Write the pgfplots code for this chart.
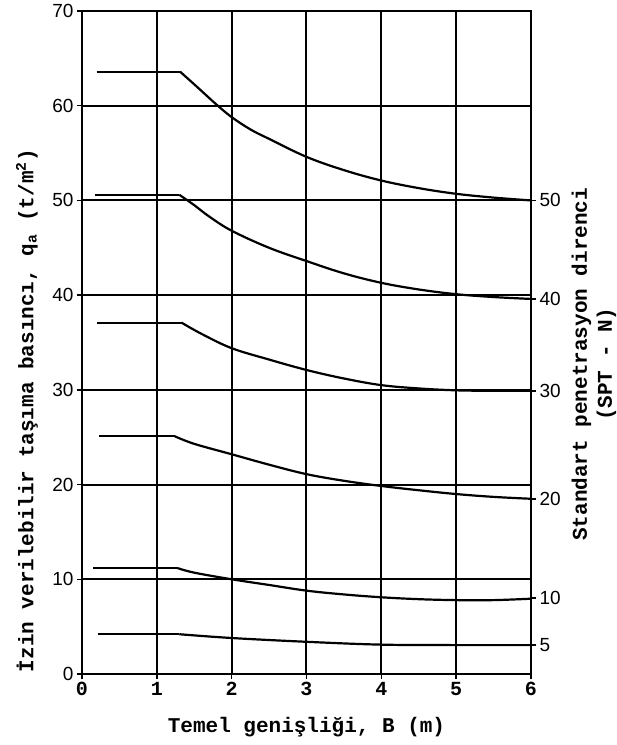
\documentclass[border=0pt]{standalone}
\usepackage{fontspec}
\setmainfont{Liberation Mono}
\newfontfamily\numfont{Liberation Sans}
\usepackage{pgfplots}
\pgfplotsset{compat=1.18}
\pgfplotsset{curve/.style={black, solid, line width=2.2pt, mark=none},
  scurve/.style={curve, smooth, tension=0.6}}
\begin{document}
\begin{tikzpicture}
\useasboundingbox (-82pt,-71pt) rectangle (535pt,674pt);
\begin{axis}[
 scale only axis, width=449pt, height=663pt,
 xmin=0, xmax=6, ymin=0, ymax=70,
 xtick={0,...,6}, ytick={0,10,...,70},
 xtick pos=bottom, ytick pos=left,
 grid=major, major grid style={black, line width=2pt},
 axis line style={black, line width=2pt},
 tick style={black, line width=1.5pt},
 tick align=outside, major tick length=5pt,
 /pgf/number format/assume math mode=true,
 xticklabel style={font=\fontsize{20}{20}\bfseries\selectfont},
 yticklabel style={font=\fontsize{19}{19}\numfont\selectfont},
 xlabel={Temel genişliği, B (m)},
 ylabel={İzin verilebilir taşıma basıncı, q\textsubscript{a}  (t/m\textsuperscript{2})},
 label style={font=\fontsize{21}{25}\bfseries\selectfont},
 xlabel style={at={(axis cs:3,0)}, anchor=base, yshift=-58pt},
 ylabel style={at={([xshift=-55pt]axis cs:0,27.8)}, anchor=center},
 clip=false,
]
% N = 50
\addplot[curve] coordinates {(0.2,63.6) (1.31,63.6)};
\addplot[scurve] coordinates {(1.31,63.6) (1.55,61.9) (1.8,60.1) (2,58.8) (2.25,57.5) (2.5,56.5) (3,54.6) (3.5,53.2) (4,52.1) (4.5,51.3) (5,50.7) (5.5,50.3) (6,50.0)};
% N = 40
\addplot[curve] coordinates {(0.17,50.6) (1.3,50.6)};
\addplot[scurve] coordinates {(1.3,50.6) (1.5,49.5) (1.7,48.3) (2,46.8) (2.5,45.0) (3,43.6) (3.5,42.3) (4,41.3) (4.5,40.6) (5,40.1) (5.5,39.8) (6,39.6)};
% N = 30
\addplot[curve] coordinates {(0.2,37.1) (1.33,37.1)};
\addplot[scurve] coordinates {(1.33,37.1) (1.6,35.9) (2,34.4) (2.5,33.2) (3,32.1) (3.5,31.2) (4,30.5) (4.5,30.15) (5,29.95) (5.5,29.9) (6,29.9)};
% N = 20
\addplot[curve] coordinates {(0.23,25.1) (1.24,25.1)};
\addplot[scurve] coordinates {(1.24,25.1) (1.5,24.3) (2,23.2) (2.5,22.1) (3,21.1) (3.5,20.4) (4,19.85) (4.5,19.4) (5,19.0) (5.5,18.7) (6,18.5)};
% N = 10
\addplot[curve] coordinates {(0.15,11.2) (1.27,11.2)};
\addplot[scurve] coordinates {(1.27,11.2) (1.5,10.7) (2,10.0) (2.5,9.4) (3,8.8) (3.5,8.4) (4,8.1) (4.5,7.9) (5,7.8) (5.5,7.8) (6,7.95)};
% N = 5
\addplot[curve] coordinates {(0.21,4.2) (1.3,4.2)};
\addplot[scurve] coordinates {(1.3,4.2) (2,3.8) (3,3.4) (4,3.1) (5,3.05) (6,3.05)};
\node[rotate=90, align=center, font=\fontsize{21}{25}\bfseries\selectfont]
  at ([xshift=63pt]axis cs:6,32.7) {Standart penetrasyon direnci\\(SPT - N)};
\end{axis}
\begin{axis}[
 scale only axis, width=449pt, height=663pt,
 xmin=0, xmax=6, ymin=0, ymax=70,
 axis x line=none, axis y line*=right,
 axis line style={black, line width=2pt},
 tick style={black, line width=1.5pt},
 tick align=outside, major tick length=5pt,
 ytick={50,39.6,29.9,18.5,8.0,3.05},
 yticklabels={50,40,30,20,10,5},
 yticklabel style={font=\fontsize{19}{19}\numfont\selectfont},
]
\addplot[draw=none] coordinates {(0,0) (6,70)};
\end{axis}
\end{tikzpicture}
\end{document}
